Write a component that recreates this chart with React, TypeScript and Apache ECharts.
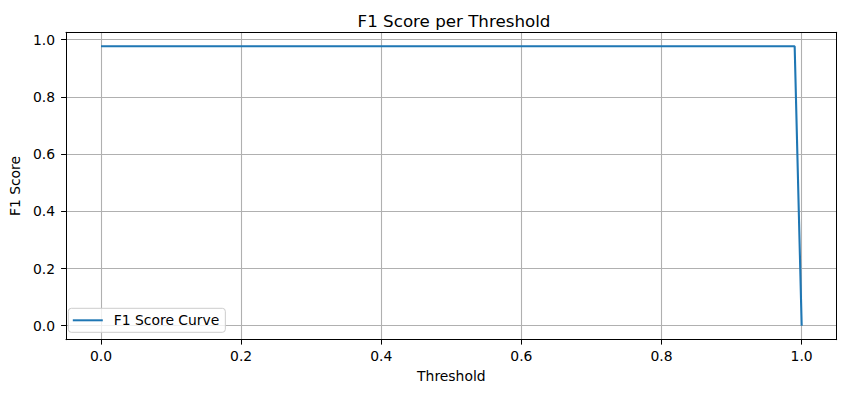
import React, { useEffect, useRef } from "react";
import * as echarts from "echarts";

const thresholds = [0.0, 0.99, 1.0];
const f1Scores = [0.977, 0.977, 0.0];
const xTicks = [0.0, 0.2, 0.4, 0.6, 0.8, 1.0];
const yTicks = [0.0, 0.2, 0.4, 0.6, 0.8, 1.0];
const seriesName = "F1 Score Curve";
const titleText = "F1 Score per Threshold";
const xLabel = "Threshold";
const yLabel = "F1 Score";

const FONT = "DejaVu Sans";

export default function App() {
  const ref = useRef<HTMLDivElement>(null);
  useEffect(() => {
    if (!ref.current) return;
    const chart = echarts.init(ref.current, null, { renderer: "svg" });
    const xMin = -0.05, xMax = 1.05;
    const yMax0 = Math.max(...f1Scores), yMin0 = Math.min(...f1Scores);
    const pad = (yMax0 - yMin0) * 0.05;
    const yMin = yMin0 - pad, yMax = yMax0 + pad;
    const seriesData = thresholds.map((t, i) => [t, f1Scores[i]]);
    const hiddenAxis = {
      show: true,
      axisLine: { show: true, onZero: false, lineStyle: { color: "#000", width: 1 } },
      axisTick: { show: false },
      axisLabel: { show: false },
      splitLine: { show: false },
    };
    chart.setOption({
      animation: false,
      backgroundColor: "#fff",
      title: {
        text: titleText,
        left: 449,
        textAlign: "center",
        top: 7,
        textStyle: { fontFamily: FONT, fontSize: 16.7, fontWeight: "normal", color: "#000" },
      },
      grid: { left: 61.5, top: 32.3, right: 9.3, bottom: 53.3, containLabel: false },
      legend: {
        show: true,
        left: 68.3,
        top: 308.3,
        orient: "vertical",
        data: [{ name: seriesName, icon: "rect" }],
        itemWidth: 30,
        itemHeight: 2,
        padding: [5, 6, 5, 4.5],
        backgroundColor: "rgba(255,255,255,0.8)",
        borderColor: "#cccccc",
        borderWidth: 1,
        borderRadius: 3,
        textStyle: { fontFamily: FONT, fontSize: 13.9, color: "#000", padding: [0, 0, 0, 6] },
      },
      xAxis: [
        {
          type: "value",
          min: xMin,
          max: xMax,
          name: xLabel,
          nameLocation: "middle",
          nameGap: 29,
          nameTextStyle: { fontFamily: FONT, fontSize: 13.9, color: "#000", verticalAlign: "top" },
          axisLine: { show: true, onZero: false, lineStyle: { color: "#000", width: 1 } },
          axisTick: { show: true, inside: false, length: 4.9, customValues: xTicks, lineStyle: { color: "#000", width: 1 } },
          axisLabel: {
            customValues: xTicks,
            margin: 9.5,
            fontFamily: FONT,
            fontSize: 13.9,
            color: "#000",
            formatter: (v: number) => v.toFixed(1),
          },
          splitLine: { show: true, lineStyle: { color: "#b0b0b0", width: 1.1 } },
        },
        { ...hiddenAxis, type: "value", min: xMin, max: xMax, position: "top" },
      ],
      yAxis: [
        {
          type: "value",
          min: yMin,
          max: yMax,
          name: yLabel,
          nameLocation: "middle",
          nameGap: 37,
          nameRotate: 90,
          nameTextStyle: { fontFamily: FONT, fontSize: 13.9, color: "#000" },
          axisLine: { show: true, onZero: false, lineStyle: { color: "#000", width: 1 } },
          axisTick: { show: true, inside: false, length: 4.9, customValues: yTicks, lineStyle: { color: "#000", width: 1 } },
          axisLabel: {
            customValues: yTicks,
            margin: 11,
            fontFamily: FONT,
            fontSize: 13.9,
            color: "#000",
            formatter: (v: number) => v.toFixed(1),
          },
          splitLine: { show: true, lineStyle: { color: "#b0b0b0", width: 1.1 } },
        },
        { ...hiddenAxis, type: "value", min: yMin, max: yMax, position: "right" },
      ],
      series: [
        {
          name: seriesName,
          type: "line",
          data: seriesData,
          showSymbol: false,
          symbol: "none",
          color: "#1f77b4",
          lineStyle: { color: "#1f77b4", width: 2.1 },
          z: 3,
        },
      ],
    });
    return () => chart.dispose();
  }, []);
  return <div ref={ref} style={{ width: 846, height: 393, position: "absolute", left: 0, top: 0 }} />;
}
